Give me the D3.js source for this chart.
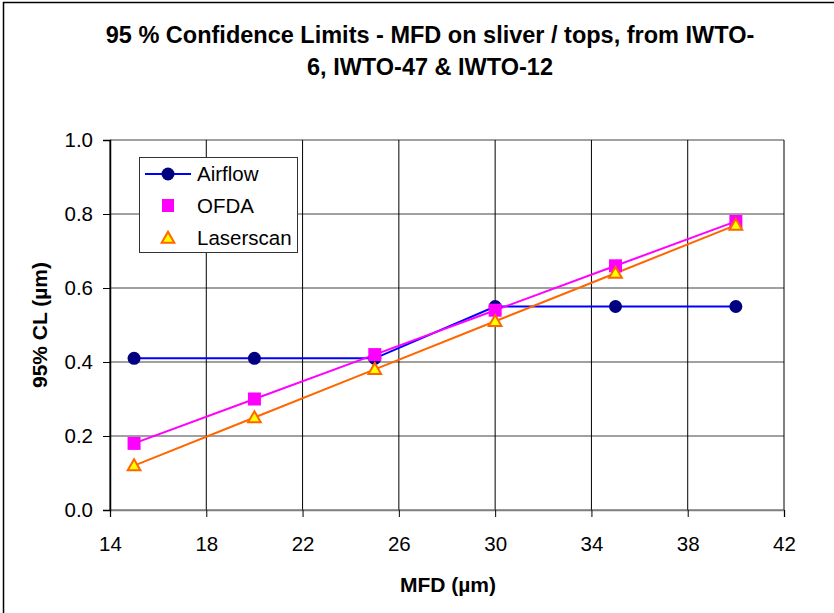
<!DOCTYPE html>
<html>
<head>
    <title>95 % Confidence Limits - MFD</title>
    <script src="https://d3js.org/d3.v7.min.js"></script>
    <style>
        body { margin: 0; padding: 0; background: #fff; }
        svg { display: block; font-family: "Liberation Sans", Arial, sans-serif; }
        .tick text { font-size: 20.5px; fill: #000; }
    </style>
</head>
<body>
    <div id="chart"></div>
    <script>
        // MFD values (µm)
        const mfd = [15, 20, 25, 30, 35, 40];
        // 95% CL per method
        const airflow = [0.41, 0.41, 0.41, 0.55, 0.55, 0.55];
        const ofda = [0.18, 0.30, 0.42, 0.54, 0.66, 0.78];
        const laserscan = [0.12, 0.25, 0.38, 0.51, 0.64, 0.77];
        const xTicks = [14, 18, 22, 26, 30, 34, 38, 42];
        const yTicks = [0, 0.2, 0.4, 0.6, 0.8, 1.0];

        const width = 834, height = 613;
        const margin = { top: 140, right: 50, bottom: 103, left: 110 };
        const innerW = width - margin.left - margin.right;
        const innerH = height - margin.top - margin.bottom;

        const svg = d3.select("#chart").append("svg")
            .attr("width", width)
            .attr("height", height);

        // outer frame
        svg.append("rect")
            .attr("x", 3.5).attr("y", 2.5)
            .attr("width", width + 10).attr("height", height + 10)
            .attr("fill", "#fff").attr("stroke", "#000").attr("stroke-width", 1.5);

        // title
        const title = svg.append("text")
            .attr("text-anchor", "middle")
            .attr("font-weight", "bold")
            .attr("font-size", "23.5px");
        title.append("tspan").attr("x", 430).attr("y", 43)
            .text("95 % Confidence Limits - MFD on sliver / tops, from IWTO-");
        title.append("tspan").attr("x", 430).attr("y", 75)
            .text("6, IWTO-47 & IWTO-12");

        const g = svg.append("g")
            .attr("transform", `translate(${margin.left},${margin.top})`);

        const x = d3.scaleLinear().domain([14, 42]).range([0, innerW]);
        const y = d3.scaleLinear().domain([0, 1]).range([innerH, 0]);

        // horizontal grid (gray)
        g.selectAll(".hgrid")
            .data(yTicks)
            .enter().append("line")
            .attr("x1", 0).attr("x2", innerW)
            .attr("y1", d => y(d)).attr("y2", d => y(d))
            .attr("stroke", "#808080").attr("stroke-width", 1.5);

        // vertical grid (black)
        g.selectAll(".vgrid")
            .data(xTicks)
            .enter().append("line")
            .attr("x1", d => x(d)).attr("x2", d => x(d))
            .attr("y1", 0).attr("y2", innerH)
            .attr("stroke", "#000").attr("stroke-width", 1);

        // axes
        const xAxis = g.append("g")
            .attr("transform", `translate(0,${innerH})`)
            .call(d3.axisBottom(x).tickValues(xTicks).tickSize(7).tickPadding(19).tickFormat(d3.format("d")));
        xAxis.select(".domain").attr("stroke", "#808080").attr("stroke-width", 1.5);

        const yAxis = g.append("g")
            .call(d3.axisLeft(y).tickValues(yTicks).tickSize(7).tickPadding(10).tickFormat(d3.format(".1f")));
        yAxis.select(".domain").attr("stroke", "#000").attr("stroke-width", 1.5);

        // axis titles
        svg.append("text")
            .attr("x", 448).attr("y", 592)
            .attr("text-anchor", "middle")
            .attr("font-weight", "bold").attr("font-size", "21px")
            .text("MFD (µm)");
        svg.append("text")
            .attr("transform", `translate(47,${margin.top + innerH / 2}) rotate(-90)`)
            .attr("text-anchor", "middle")
            .attr("font-weight", "bold").attr("font-size", "21px")
            .text("95% CL (µm)");

        const line = d3.line().x(d => x(d[0])).y(d => y(d[1]));
        const pairs = vals => mfd.map((m, i) => [m, vals[i]]);

        // lines
        g.append("path").datum(pairs(airflow)).attr("d", line)
            .attr("fill", "none").attr("stroke", "#0000ff").attr("stroke-width", 2);
        g.append("path").datum(pairs(ofda)).attr("d", line)
            .attr("fill", "none").attr("stroke", "#ff00ff").attr("stroke-width", 2);
        g.append("path").datum(pairs(laserscan)).attr("d", line)
            .attr("fill", "none").attr("stroke", "#ff6600").attr("stroke-width", 2);

        const tri = d3.symbol().type(d3.symbolTriangle).size(70);

        // markers
        g.selectAll(".air").data(pairs(airflow)).enter().append("circle")
            .attr("cx", d => x(d[0])).attr("cy", d => y(d[1])).attr("r", 6.5)
            .attr("fill", "#000080");
        g.selectAll(".ofda").data(pairs(ofda)).enter().append("rect")
            .attr("x", d => x(d[0]) - 6.5).attr("y", d => y(d[1]) - 6.5)
            .attr("width", 13).attr("height", 13)
            .attr("fill", "#ff00ff");
        g.selectAll(".laser").data(pairs(laserscan)).enter().append("path")
            .attr("d", tri)
            .attr("transform", d => `translate(${x(d[0])},${y(d[1]) + 1})`)
            .attr("fill", "#ffff00").attr("stroke", "#ff6600").attr("stroke-width", 2);

        // legend
        const lg = svg.append("g").attr("transform", "translate(139,157)");
        lg.append("rect").attr("x", 0.5).attr("y", 0.5).attr("width", 158).attr("height", 95)
            .attr("fill", "#fff").attr("stroke", "#333").attr("stroke-width", 1);
        const items = [
            { name: "Airflow", kind: "circle" },
            { name: "OFDA", kind: "square" },
            { name: "Laserscan", kind: "tri" }
        ];
        items.forEach((it, i) => {
            const cy = 17 + i * 32;
            const row = lg.append("g");
            if (it.kind === "circle") {
                row.append("line").attr("x1", 6).attr("x2", 52).attr("y1", cy).attr("y2", cy)
                    .attr("stroke", "#0000ff").attr("stroke-width", 2);
                row.append("circle").attr("cx", 29).attr("cy", cy).attr("r", 6.5).attr("fill", "#000080");
            } else if (it.kind === "square") {
                row.append("rect").attr("x", 23).attr("y", cy - 7).attr("width", 12).attr("height", 13)
                    .attr("fill", "#ff00ff");
            } else {
                row.append("path").attr("d", tri).attr("transform", `translate(29,${cy + 1})`)
                    .attr("fill", "#ffff00").attr("stroke", "#ff6600").attr("stroke-width", 2);
            }
            row.append("text").attr("x", 58).attr("y", cy + 7)
                .attr("font-size", "20.5px").text(it.name);
        });
    </script>
</body>
</html>
